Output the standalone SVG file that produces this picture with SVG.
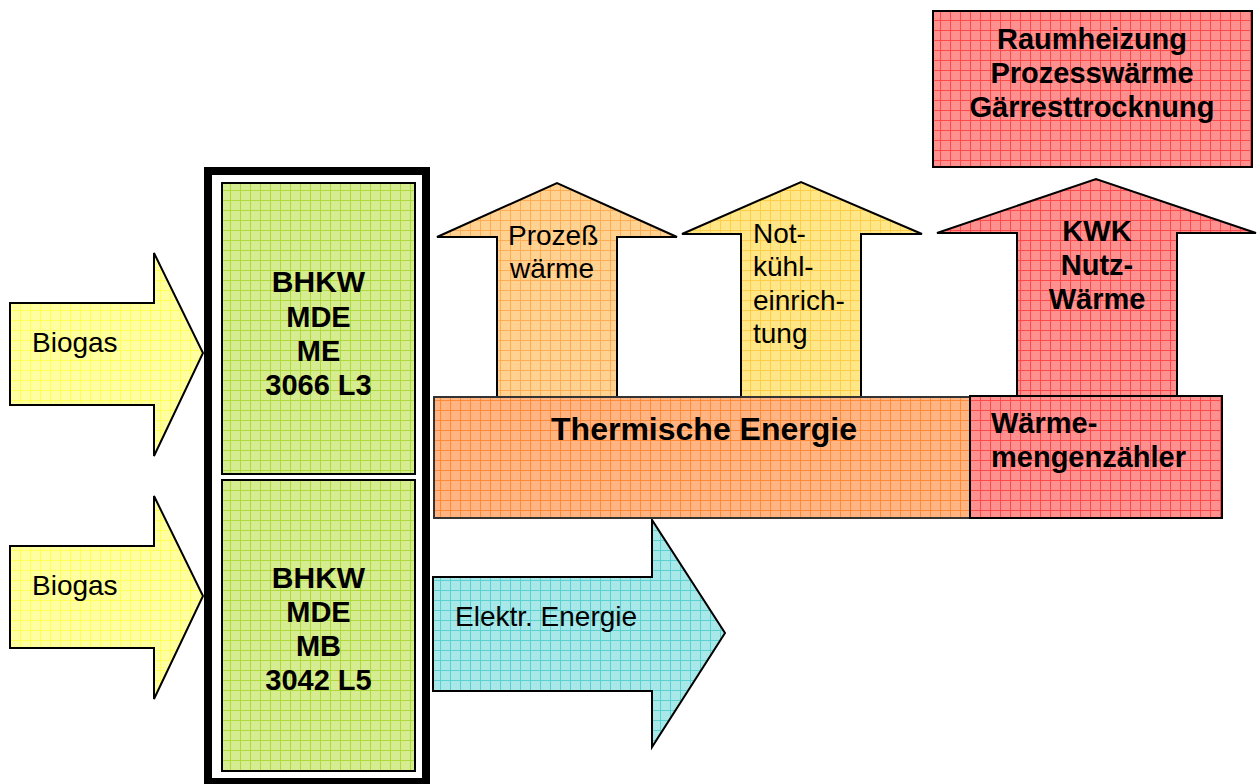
<svg xmlns="http://www.w3.org/2000/svg" width="1258" height="784" viewBox="0 0 1258 784">
<defs>
<pattern id="pGreen" width="10" height="10" patternUnits="userSpaceOnUse"><rect width="10" height="10" fill="#d6ec90"/><path d="M0 0.5H10M0.5 0V10" stroke="#b0da3c" stroke-width="1"/></pattern>
<pattern id="pYellow" width="10" height="10" patternUnits="userSpaceOnUse"><rect width="10" height="10" fill="#ffffa2"/><path d="M0 0.5H10M0.5 0V10" stroke="#ffff55" stroke-width="1"/></pattern>
<pattern id="pRed" width="10" height="10" patternUnits="userSpaceOnUse"><rect width="10" height="10" fill="#ff9090"/><path d="M0 0.5H10M0.5 0V10" stroke="#ff4a4a" stroke-width="1"/></pattern>
<pattern id="pOrange" width="10" height="10" patternUnits="userSpaceOnUse"><rect width="10" height="10" fill="#ffb482"/><path d="M0 0.5H10M0.5 0V10" stroke="#ff8a38" stroke-width="1"/></pattern>
<pattern id="pLtOrange" width="10" height="10" patternUnits="userSpaceOnUse"><rect width="10" height="10" fill="#ffd292"/><path d="M0 0.5H10M0.5 0V10" stroke="#ffad55" stroke-width="1"/></pattern>
<pattern id="pGold" width="10" height="10" patternUnits="userSpaceOnUse"><rect width="10" height="10" fill="#ffe686"/><path d="M0 0.5H10M0.5 0V10" stroke="#ffcd4a" stroke-width="1"/></pattern>
<pattern id="pCyan" width="10" height="10" patternUnits="userSpaceOnUse"><rect width="10" height="10" fill="#a8e8e8"/><path d="M0 0.5H10M0.5 0V10" stroke="#5ad0d0" stroke-width="1"/></pattern>
</defs>
<style>
.sh{stroke:#000;stroke-width:2;stroke-linejoin:miter}
.t{font-family:"Liberation Sans",Arial,sans-serif;font-size:28px;fill:#000}
.b{font-family:"Liberation Sans",Arial,sans-serif;font-size:29px;font-weight:bold;fill:#000}
.c{text-anchor:middle}
</style>
<rect width="1258" height="784" fill="#fff"/>
<g id="connectors">
<g id="biogas1">
<path class="sh" fill="url(#pYellow)" d="M10 303H154V253L203 353L154 456V405H10Z"/>
<text class="t" x="32" y="352">Biogas</text>
</g>
<g id="biogas2">
<path class="sh" fill="url(#pYellow)" d="M10 546H154V496L203 596L154 699V648H10Z"/>
<text class="t" x="32" y="595">Biogas</text>
</g>
<g id="prozess">
<path class="sh" fill="url(#pLtOrange)" d="M497 398V237H437L557 183L677 237H617V398Z"/>
<text class="t" x="508" y="245">Prozeß</text>
<text class="t" x="510" y="278">wärme</text>
</g>
<g id="notkuehl">
<path class="sh" fill="url(#pGold)" d="M741 398V234H682L801 182L922 234H861V398Z"/>
<text class="t" x="753" y="243">Not-</text>
<text class="t" x="753" y="276">kühl-</text>
<text class="t" x="753" y="310">einrich-</text>
<text class="t" x="753" y="343">tung</text>
</g>
<g id="kwk">
<path class="sh" fill="url(#pRed)" d="M1017 396V233H937L1096 179L1256 233H1177V396Z"/>
<text class="b c" x="1097" y="241">KWK</text>
<text class="b c" x="1097" y="275">Nutz-</text>
<text class="b c" x="1097" y="309">Wärme</text>
</g>
<g id="elektr">
<path class="sh" fill="url(#pCyan)" d="M433 577H652V520L725 633L652 747V691H433Z"/>
<text class="t" x="455" y="626">Elektr. Energie</text>
</g>
</g>
<g id="frame">
<rect x="208" y="171" width="218" height="611" fill="none" stroke="#000" stroke-width="8"/>
</g>
<g id="bhkw1">
<rect class="sh" x="222" y="183" width="193" height="291" fill="url(#pGreen)"/>
<text class="b c" x="318.5" y="292" style="font-size:30px">BHKW</text>
<text class="b c" x="318.5" y="327">MDE</text>
<text class="b c" x="318.5" y="361">ME</text>
<text class="b c" x="318.5" y="395">3066 L3</text>
</g>
<g id="bhkw2">
<rect class="sh" x="222" y="480" width="193" height="291" fill="url(#pGreen)"/>
<text class="b c" x="318.5" y="588" style="font-size:30px">BHKW</text>
<text class="b c" x="318.5" y="622">MDE</text>
<text class="b c" x="318.5" y="656">MB</text>
<text class="b c" x="318.5" y="690">3042 L5</text>
</g>
<g id="thermisch">
<rect x="434" y="397" width="536" height="121" fill="url(#pOrange)" stroke="#333" stroke-width="2"/>
<text class="b c" x="704" y="440" style="font-size:32px">Thermische Energie</text>
</g>
<g id="waermezaehler">
<rect class="sh" x="970" y="396" width="252" height="122" fill="url(#pRed)"/>
<text class="b" x="991" y="433">Wärme-</text>
<text class="b" x="991" y="467">mengenzähler</text>
</g>
<g id="verbraucher">
<rect class="sh" x="933" y="11" width="319" height="156" fill="url(#pRed)"/>
<text class="b c" x="1092" y="49">Raumheizung</text>
<text class="b c" x="1092" y="83">Prozesswärme</text>
<text class="b c" x="1092" y="117">Gärresttrocknung</text>
</g>
</svg>
